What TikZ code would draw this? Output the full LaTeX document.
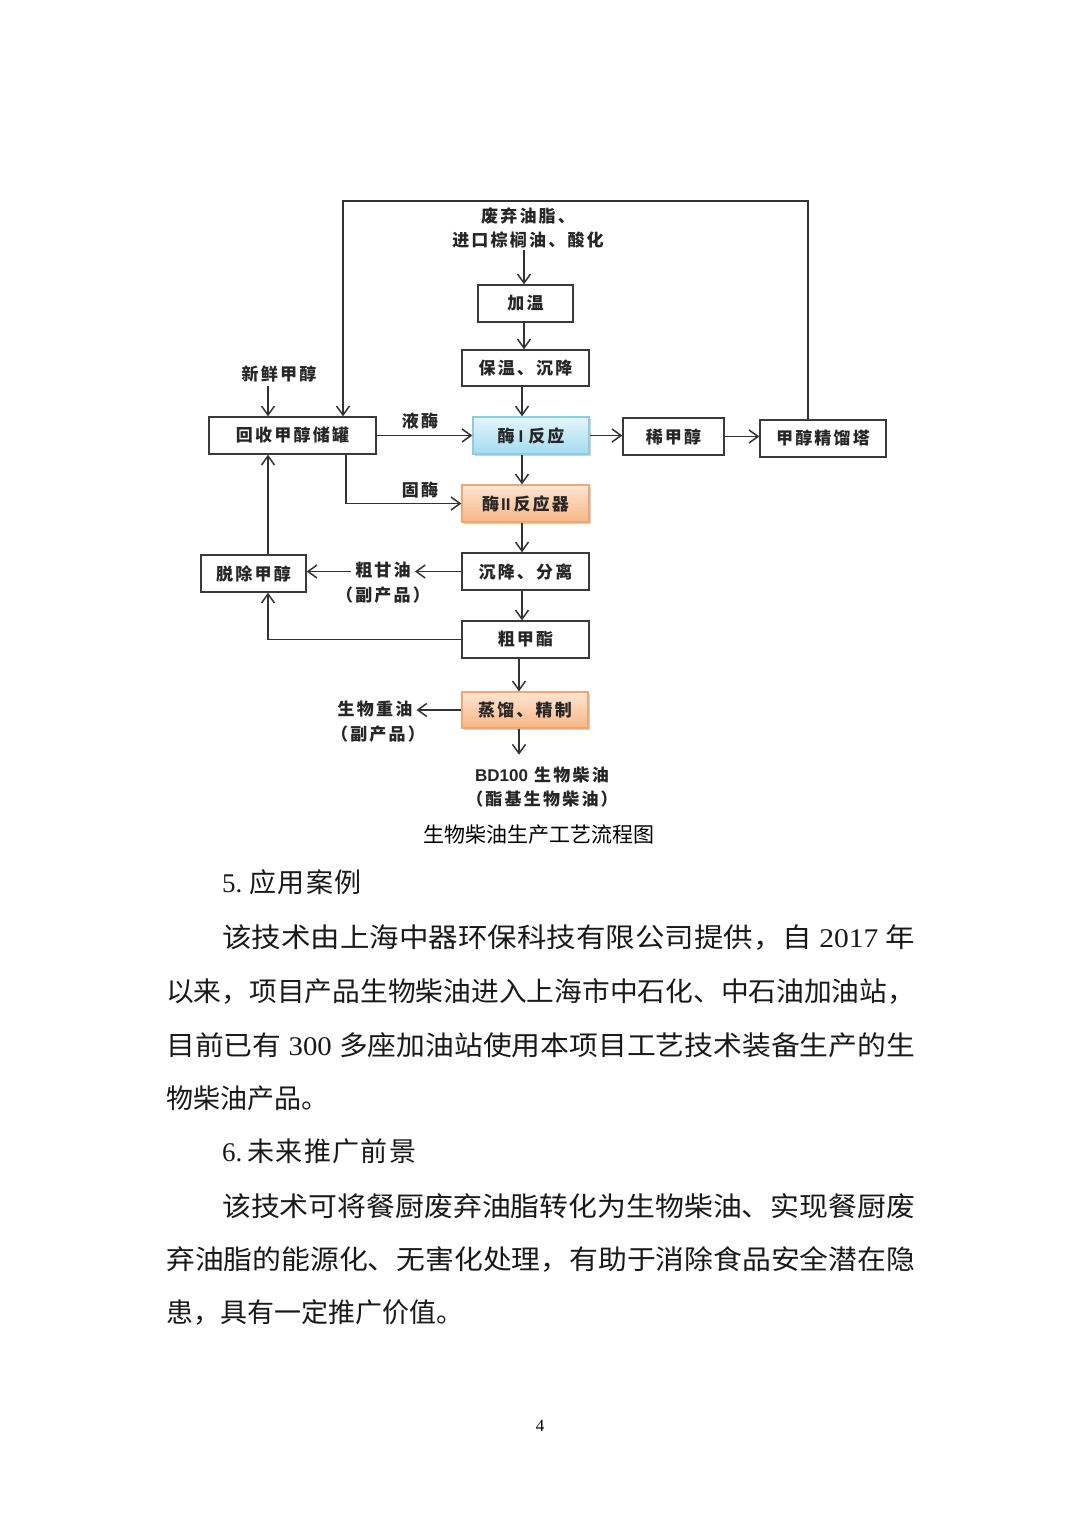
\documentclass[tikz,border=0pt]{standalone}
\usepackage{fontspec}
\setmainfont{Liberation Serif}
\newfontfamily\cjk{Noto Sans CJK SC}
\newfontfamily\cjkh[LetterSpace=5]{Noto Sans CJK SC}
\newfontfamily\cjkls[LetterSpace=13]{Noto Sans CJK SC}
\newfontfamily\hv{Liberation Sans}
\usetikzlibrary{arrows.meta,shadows}
\definecolor{linec}{HTML}{333333}
\definecolor{boxc}{HTML}{3A3A3A}
\definecolor{blueb}{HTML}{8FCBE2}
\definecolor{bluet}{HTML}{E4F6FC}
\definecolor{blueB}{HTML}{A3DBEF}
\definecolor{orb}{HTML}{EFA774}
\definecolor{ort}{HTML}{FDE6D3}
\definecolor{orB}{HTML}{F7B684}
\tikzset{
  chart/.style={font=\cjkls\bfseries\fontsize{17}{24}\selectfont, text=black!85},
  bx/.style={chart, draw=boxc, line width=1.4pt, fill=white, minimum height=37pt, inner sep=0pt},
  bluebx/.style={bx, draw=blueb, top color=bluet, bottom color=blueB,
    drop shadow={shadow xshift=1.5pt, shadow yshift=-1.5pt, fill=black, opacity=0.18}},
  orbx/.style={bx, draw=orb, top color=ort, bottom color=orB,
    drop shadow={shadow xshift=1.5pt, shadow yshift=-1.5pt, fill=black, opacity=0.18}},
  lbl/.style={chart, inner sep=4pt, align=center},
  arr/.style={draw=linec, line width=1.5pt, -{Straight Barb[length=9pt,width=13pt]}},
  body/.style={font=\cjk\fontsize{27}{30}\selectfont, anchor=base west, inner sep=0pt, text=black!90},
}
\begin{document}
\begin{tikzpicture}[x=1pt,y=-1pt]
\useasboundingbox (0,0) rectangle (1080,1527);
\fill[white] (0,0) rectangle (1080,1527);

% columns and corners
\coordinate (m1) at (524,0);
\coordinate (m2) at (522,0);
\coordinate (m3) at (519,0);
\coordinate (cT) at (268,0);
\coordinate (cG) at (346,0);
\coordinate (lt) at (343,201);
\coordinate (rt) at (808,201);

% boxes
\node[bx, minimum width=95pt] (jiawen) at (525.5,303.5) {加温};
\node[bx, minimum width=127pt, minimum height=36pt] (baowen) at (525.5,368) {保温、沉降};
\node[bluebx, minimum width=116pt] (mei1) at (531,435.5) {酶\hspace{4pt}{\hv\bfseries I}\hspace{5pt}反应};
\node[bx, minimum width=167pt] (huishou) at (292.5,435.5) {回收甲醇储罐};
\node[bx, minimum width=101pt] (xi) at (673.5,436.5) {稀甲醇};
\node[bx, minimum width=126pt] (jingliu) at (823,438.5) {甲醇精馏塔};
\node[orbx, minimum width=127pt] (mei2) at (525.5,503.5) {酶\hspace{2pt}{\hv\bfseries II}\hspace{3pt}反应器};
\node[bx, minimum width=127pt] (chen) at (525.5,571.5) {沉降、分离};
\node[bx, minimum width=105pt] (tuochu) at (253.5,573.5) {脱除甲醇};
\node[bx, minimum width=127pt] (cu) at (525.5,639.5) {粗甲酯};
\node[orbx, minimum width=126pt, minimum height=36pt] (zheng) at (525,710) {蒸馏、精制};

% labels
\node[lbl, inner sep=2pt] (src) at (528,228) {废弃油脂、\\进口棕榈油、酸化};
\node[lbl] (xin) at (279,374) {新鲜甲醇};
\node[lbl] (ye) at (420,421) {液酶};
\node[lbl] (gu) at (420,490) {固酶};
\node[lbl] (cug) at (383,570) {粗甘油};
\node[lbl] (cugp) at (383,595) {（副产品）};
\node[lbl] (zy) at (375,709) {生物重油};
\node[lbl] (zyp) at (378,734) {（副产品）};
\node[lbl, inner sep=2pt] (bd) at (542,787) {{\hv\bfseries BD100} 生物柴油\\（酯基生物柴油）};
\node[font=\cjk\fontsize{21}{24}\selectfont, inner sep=0pt] (cap) at (539,835) {生物柴油生产工艺流程图};

% main column
\draw[arr] (m1 |- src.south) -- (m1 |- jiawen.north);
\draw[arr] (m1 |- jiawen.south) -- (m1 |- baowen.north);
\draw[arr] (m2 |- baowen.south) -- (m2 |- mei1.north);
\draw[arr] (m2 |- mei1.south) -- (m2 |- mei2.north);
\draw[arr] (m2 |- mei2.south) -- (m2 |- chen.north);
\draw[arr] (m2 |- chen.south) -- (m2 |- cu.north);
\draw[arr] (m3 |- cu.south) -- (m3 |- zheng.north);
\draw[arr, shorten >=10pt] (m3 |- zheng.south) -- (m3 |- bd.north);

% right branch
\draw[arr] (mei1.east) -- (mei1.east -| xi.west);
\draw[arr] (xi.east) -- (xi.east -| jingliu.west);
\draw[arr] (jingliu.north -| rt) -- (rt) -- (lt) -- (lt |- huishou.north);

% methanol tank
\draw[arr] (xin.south -| cT) -- (cT |- huishou.north);
\draw[arr] (huishou.east) -- (mei1.west);
\draw[arr] (cG |- huishou.south) |- (mei2.west);

% glycerol side
\draw[arr] (chen.west) -- (chen.west -| cug.east);
\draw[arr] (cug.west |- chen.west) -- (tuochu.east |- chen.west);
\draw[arr] (cu.west) -| (cT |- tuochu.south);
\draw[arr] (cT |- tuochu.north) -- (cT |- huishou.south);

% heavy oil
\draw[arr] (zheng.west) -- (zheng.west -| zy.east);

% body text
\node[body] (h5) at (222,892) {\rmfamily 5.\hspace{7pt}\cjkh 应用案例};
\node[body] (p1a) at (222,947) {\resizebox{693pt}{\height}{\cjk 该技术由上海中器环保科技有限公司提供，自\rmfamily\ 2017 \cjk 年}};
\node[body] (p1b) at (166,1001) {\resizebox{749pt}{\height}{\cjk 以来，项目产品生物柴油进入上海市中石化、中石油加油站，}};
\node[body] (p1c) at (166,1055) {\resizebox{749pt}{\height}{\cjk 目前已有\rmfamily\ 300 \cjk 多座加油站使用本项目工艺技术装备生产的生}};
\node[body] (p1d) at (166,1108) {物柴油产品。};
\node[body] (h6) at (222,1161) {\rmfamily 6.\hspace{5pt}\cjkh 未来推广前景};
\node[body] (p2a) at (222,1216) {\resizebox{693pt}{\height}{\cjk 该技术可将餐厨废弃油脂转化为生物柴油、实现餐厨废}};
\node[body] (p2b) at (166,1269) {\resizebox{749pt}{\height}{\cjk 弃油脂的能源化、无害化处理，有助于消除食品安全潜在隐}};
\node[body] (p2c) at (166,1322) {患，具有一定推广价值。};
\node[font=\rmfamily\fontsize{17}{19}\selectfont, inner sep=0pt] (pg) at (540,1426) {4};
\end{tikzpicture}
\end{document}
